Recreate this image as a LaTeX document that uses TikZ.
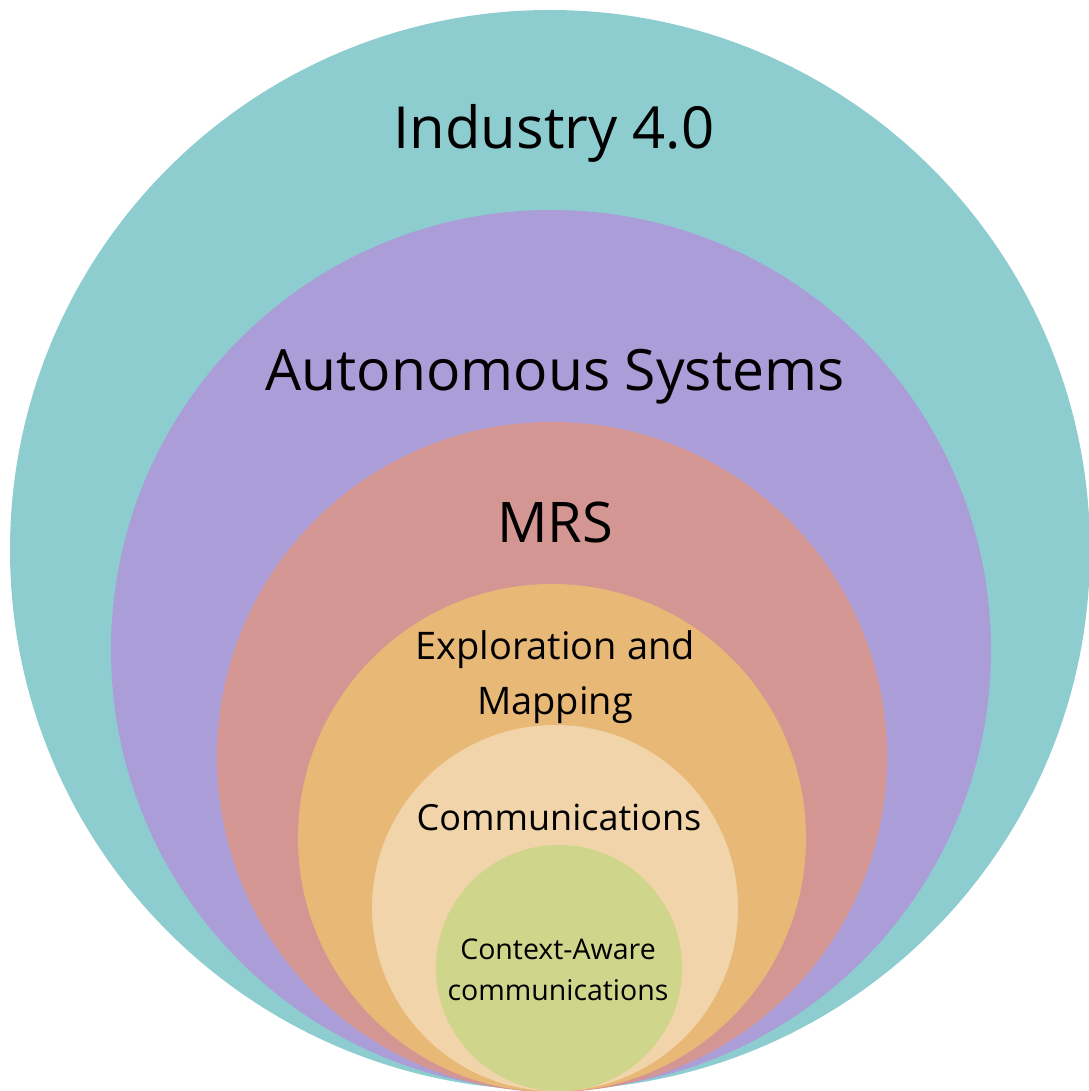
\documentclass[tikz,border=0pt]{standalone}
\usepackage{fontspec}
\setmainfont{Open Sans}
\definecolor{cTeal}{HTML}{8DCDCF}
\definecolor{cPurple}{HTML}{AA9DD8}
\definecolor{cRose}{HTML}{D49693}
\definecolor{cOrange}{HTML}{E8B877}
\definecolor{cSand}{HTML}{F1D4A9}
\definecolor{cGreen}{HTML}{CFD58A}
\begin{document}
\begin{tikzpicture}[x=1pt,y=-1pt,
  ring/.style={circle,inner sep=0pt,minimum size=#1},
  lbl/.style={text=black,align=center,inner sep=0pt}]
\useasboundingbox (0,0) rectangle (1088,1091);
\node[ring=1080pt,fill=cTeal]   (c1) at (550,550) {};
\node[ring=880pt,fill=cPurple]  (c2) at (551,650) {};
\node[ring=670pt,fill=cRose]    (c3) at (552,757) {};
\node[ring=508pt,fill=cOrange]  (c4) at (552,838) {};
\node[ring=366pt,fill=cSand]    (c5) at (555,908) {};
\node[ring=246pt,fill=cGreen]   (c6) at (559,968) {};
\node[lbl,font=\fontsize{58}{64}\selectfont] (t1) at (554,133) {Industry 4.0};
\node[lbl,font=\fontsize{57}{64}\selectfont] (t2) at (555,377) {Autonomous Systems};
\node[lbl,font=\fontsize{56}{62}\selectfont] (t3) at (555,522) {MRS};
\node[lbl,font=\fontsize{38}{55}\selectfont] (t4) at (555,677) {Exploration and\\Mapping};
\node[lbl,font=\fontsize{36}{42}\selectfont] (t5) at (559,817) {Communications};
\node[lbl,font=\fontsize{28.5}{41}\selectfont] (t6) at (558,970) {Context-Aware\\communications};
\end{tikzpicture}
\end{document}
